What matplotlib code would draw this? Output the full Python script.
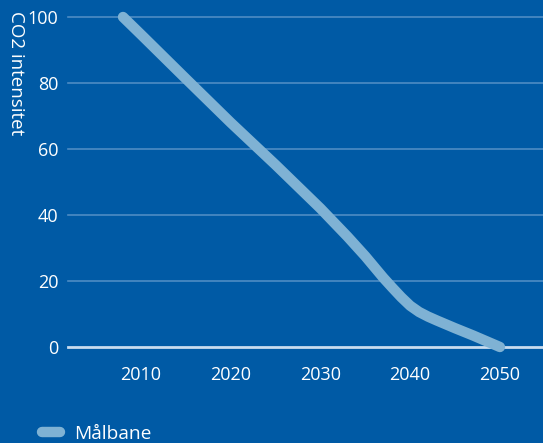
import matplotlib
matplotlib.use("Agg")
import matplotlib.pyplot as plt

years = [2008, 2010, 2015, 2020, 2025, 2030, 2033, 2035, 2037, 2038, 2039,
         2040, 2041, 2042, 2043, 2045, 2047, 2050]
intensity = [100, 94.7, 81.3, 68, 55.2, 42, 33.5, 27.5, 21, 18, 15.1,
             12.5, 10.6, 9.2, 8.0, 5.7, 3.5, 0]
xticks = [2010, 2020, 2030, 2040, 2050]
yticks = [0, 20, 40, 60, 80, 100]
series_name = "Målbane"
ylabel = "CO2 intensitet"

BG = "#005aa5"
LINE = "#7fb2d4"
GRID = "#4d8cc4"
TXT = "white"

plt.rcParams['font.family'] = ['Open Sans', 'DejaVu Sans']

W, H = 543, 443
fig = plt.figure(figsize=(W / 100, H / 100), dpi=100, facecolor=BG)
ax = fig.add_axes([68 / W, 1 - 347 / H, (543 - 68) / W, (347 - 17) / H])
ax.set_facecolor(BG)

ax.plot(years, intensity, color=LINE, lw=7.5, solid_capstyle='round',
        solid_joinstyle='round', clip_on=False, zorder=3, label=series_name)

ax.set_xlim(2001.87, 2054.8)
ax.set_ylim(0, 100)
ax.set_xticks(xticks)
ax.set_yticks(yticks)
for y in yticks[1:]:
    ax.axhline(y, color=GRID, lw=1.2, zorder=1, clip_on=False)
ax.axhline(0, color="#c8dcef", lw=2, zorder=2, clip_on=False)

for s in ax.spines.values():
    s.set_visible(False)
ax.tick_params(axis='both', length=0, colors=TXT, labelsize=13)
ax.tick_params(axis='x', pad=14)
ax.tick_params(axis='y', pad=7)

fig.text(16 / W, 1 - 11 / H, ylabel, rotation=-90, color=TXT, fontsize=13.5,
         ha='center', va='top')

leg = fig.legend(loc='center left', bbox_to_anchor=(42 / W, 1 - 434 / H),
                 frameon=False, fontsize=13.75, labelcolor=TXT,
                 handlelength=0.95, handletextpad=0.75, borderpad=0,
                 borderaxespad=0)
for h in leg.legend_handles:
    h.set_linewidth(7.5)
    h.set_solid_capstyle('round')

fig.savefig("out.png", dpi=100, facecolor=BG)
